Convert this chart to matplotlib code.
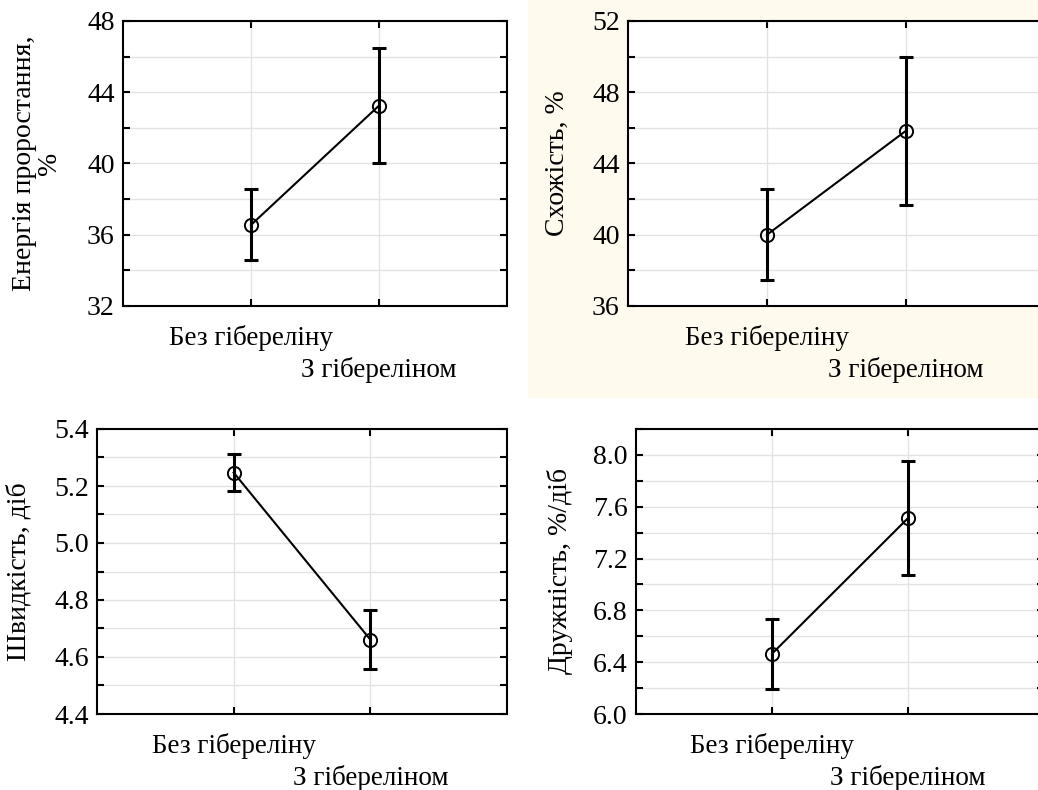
import matplotlib
matplotlib.use("Agg")
import matplotlib.pyplot as plt
from matplotlib.patches import Rectangle
from matplotlib.ticker import MultipleLocator

plt.rcParams['font.family'] = ['Liberation Serif', 'DejaVu Serif']

# ---- data ----
categories = ["Без гібереліну", "З гібереліном"]

energy_mean = [36.55, 43.25]
energy_low = [34.6, 40.0]
energy_high = [38.56, 46.5]

germ_mean = [40.0, 45.84]
germ_low = [37.47, 41.66]
germ_high = [42.55, 49.97]

speed_mean = [5.247, 4.661]
speed_low = [5.184, 4.559]
speed_high = [5.311, 4.766]

friend_mean = [6.465, 7.512]
friend_low = [6.196, 7.071]
friend_high = [6.730, 7.954]

ylabels = ["Енергія проростання,\n%", "Схожість, %", "Швидкість, діб", "Дружність, %/діб"]

W, H = 1038, 790
fig = plt.figure(figsize=(W / 100, H / 100), dpi=100)
fig.patch.set_facecolor('white')

# beige background behind the top-right panel
fig.patches.append(Rectangle((528 / W, (H - 398) / H), (W - 528) / W, 398 / H,
                             transform=fig.transFigure, facecolor='#fffaee',
                             edgecolor='none', zorder=0))

def box(left, right, top, bottom):
    return [left / W, (H - bottom) / H, (right - left) / W, (bottom - top) / H]

panels = [
    dict(rect=box(123, 507, 21, 306), mean=energy_mean, low=energy_low, high=energy_high,
         ylim=(32, 48), major=4, minor=2, fmt="{:.0f}", label=ylabels[0], lx=-0.16),
    dict(rect=box(628, 1045, 21, 306), mean=germ_mean, low=germ_low, high=germ_high,
         ylim=(36, 52), major=4, minor=2, fmt="{:.0f}", label=ylabels[1], lx=-0.14),
    dict(rect=box(97, 507, 429, 714), mean=speed_mean, low=speed_low, high=speed_high,
         ylim=(4.4, 5.4), major=0.2, minor=0.1, fmt="{:.1f}", label=ylabels[2], lx=-0.16),
    dict(rect=box(636, 1044, 429, 714), mean=friend_mean, low=friend_low, high=friend_high,
         ylim=(6.0, 8.2), major=0.4, minor=0.2, fmt="{:.1f}", label=ylabels[3], lx=-0.155),
]

xpos = [1, 2]

for p in panels:
    ax = fig.add_axes(p['rect'])
    ax.set_facecolor('white')
    ax.set_zorder(1)
    mean = p['mean']
    yerr = [[m - l for m, l in zip(mean, p['low'])],
            [h - m for m, h in zip(mean, p['high'])]]
    ax.plot(xpos, mean, color='black', lw=1.5, zorder=3)
    ax.errorbar(xpos, mean, yerr=yerr, fmt='none', ecolor='black',
                elinewidth=2.2, capsize=5, capthick=2.2, zorder=3)
    ax.plot(xpos, mean, linestyle='none', marker='o', markersize=9.5,
            markerfacecolor='none', markeredgecolor='black', markeredgewidth=1.4, zorder=4)

    ax.set_xlim(0, 3)
    ax.set_ylim(*p['ylim'])
    # first category as a major tick, second as a minor tick so it can sit lower
    ax.set_xticks([xpos[0]])
    ax.set_xticklabels([categories[0]], fontsize=19.5)
    ax.set_xticks([xpos[1]], minor=True)
    ax.set_xticklabels([categories[1]], minor=True, fontsize=19.5)

    ax.yaxis.set_major_locator(MultipleLocator(p['major']))
    ax.yaxis.set_minor_locator(MultipleLocator(p['minor']))
    ticks = ax.get_yticks()
    ax.set_yticks(ticks)
    ax.set_yticklabels([p['fmt'].format(t) for t in ticks], fontsize=20)
    ax.set_ylim(*p['ylim'])

    ax.grid(True, which='both', axis='both', color='#e3e3e3', lw=1.0, zorder=0)
    ax.set_axisbelow(True)

    ax.tick_params(axis='both', which='both', direction='in', top=True, right=True,
                   length=5, width=1.5, color='black')
    ax.tick_params(axis='x', which='major', pad=14)
    ax.tick_params(axis='x', which='minor', pad=36.5)
    ax.tick_params(axis='y', pad=6)
    for s in ax.spines.values():
        s.set_linewidth(1.5)
        s.set_color('black')

    ax.set_ylabel(p['label'], fontsize=20, linespacing=1.0)
    ax.yaxis.set_label_coords(p['lx'], 0.5)

fig.savefig("out.png", dpi=100)
